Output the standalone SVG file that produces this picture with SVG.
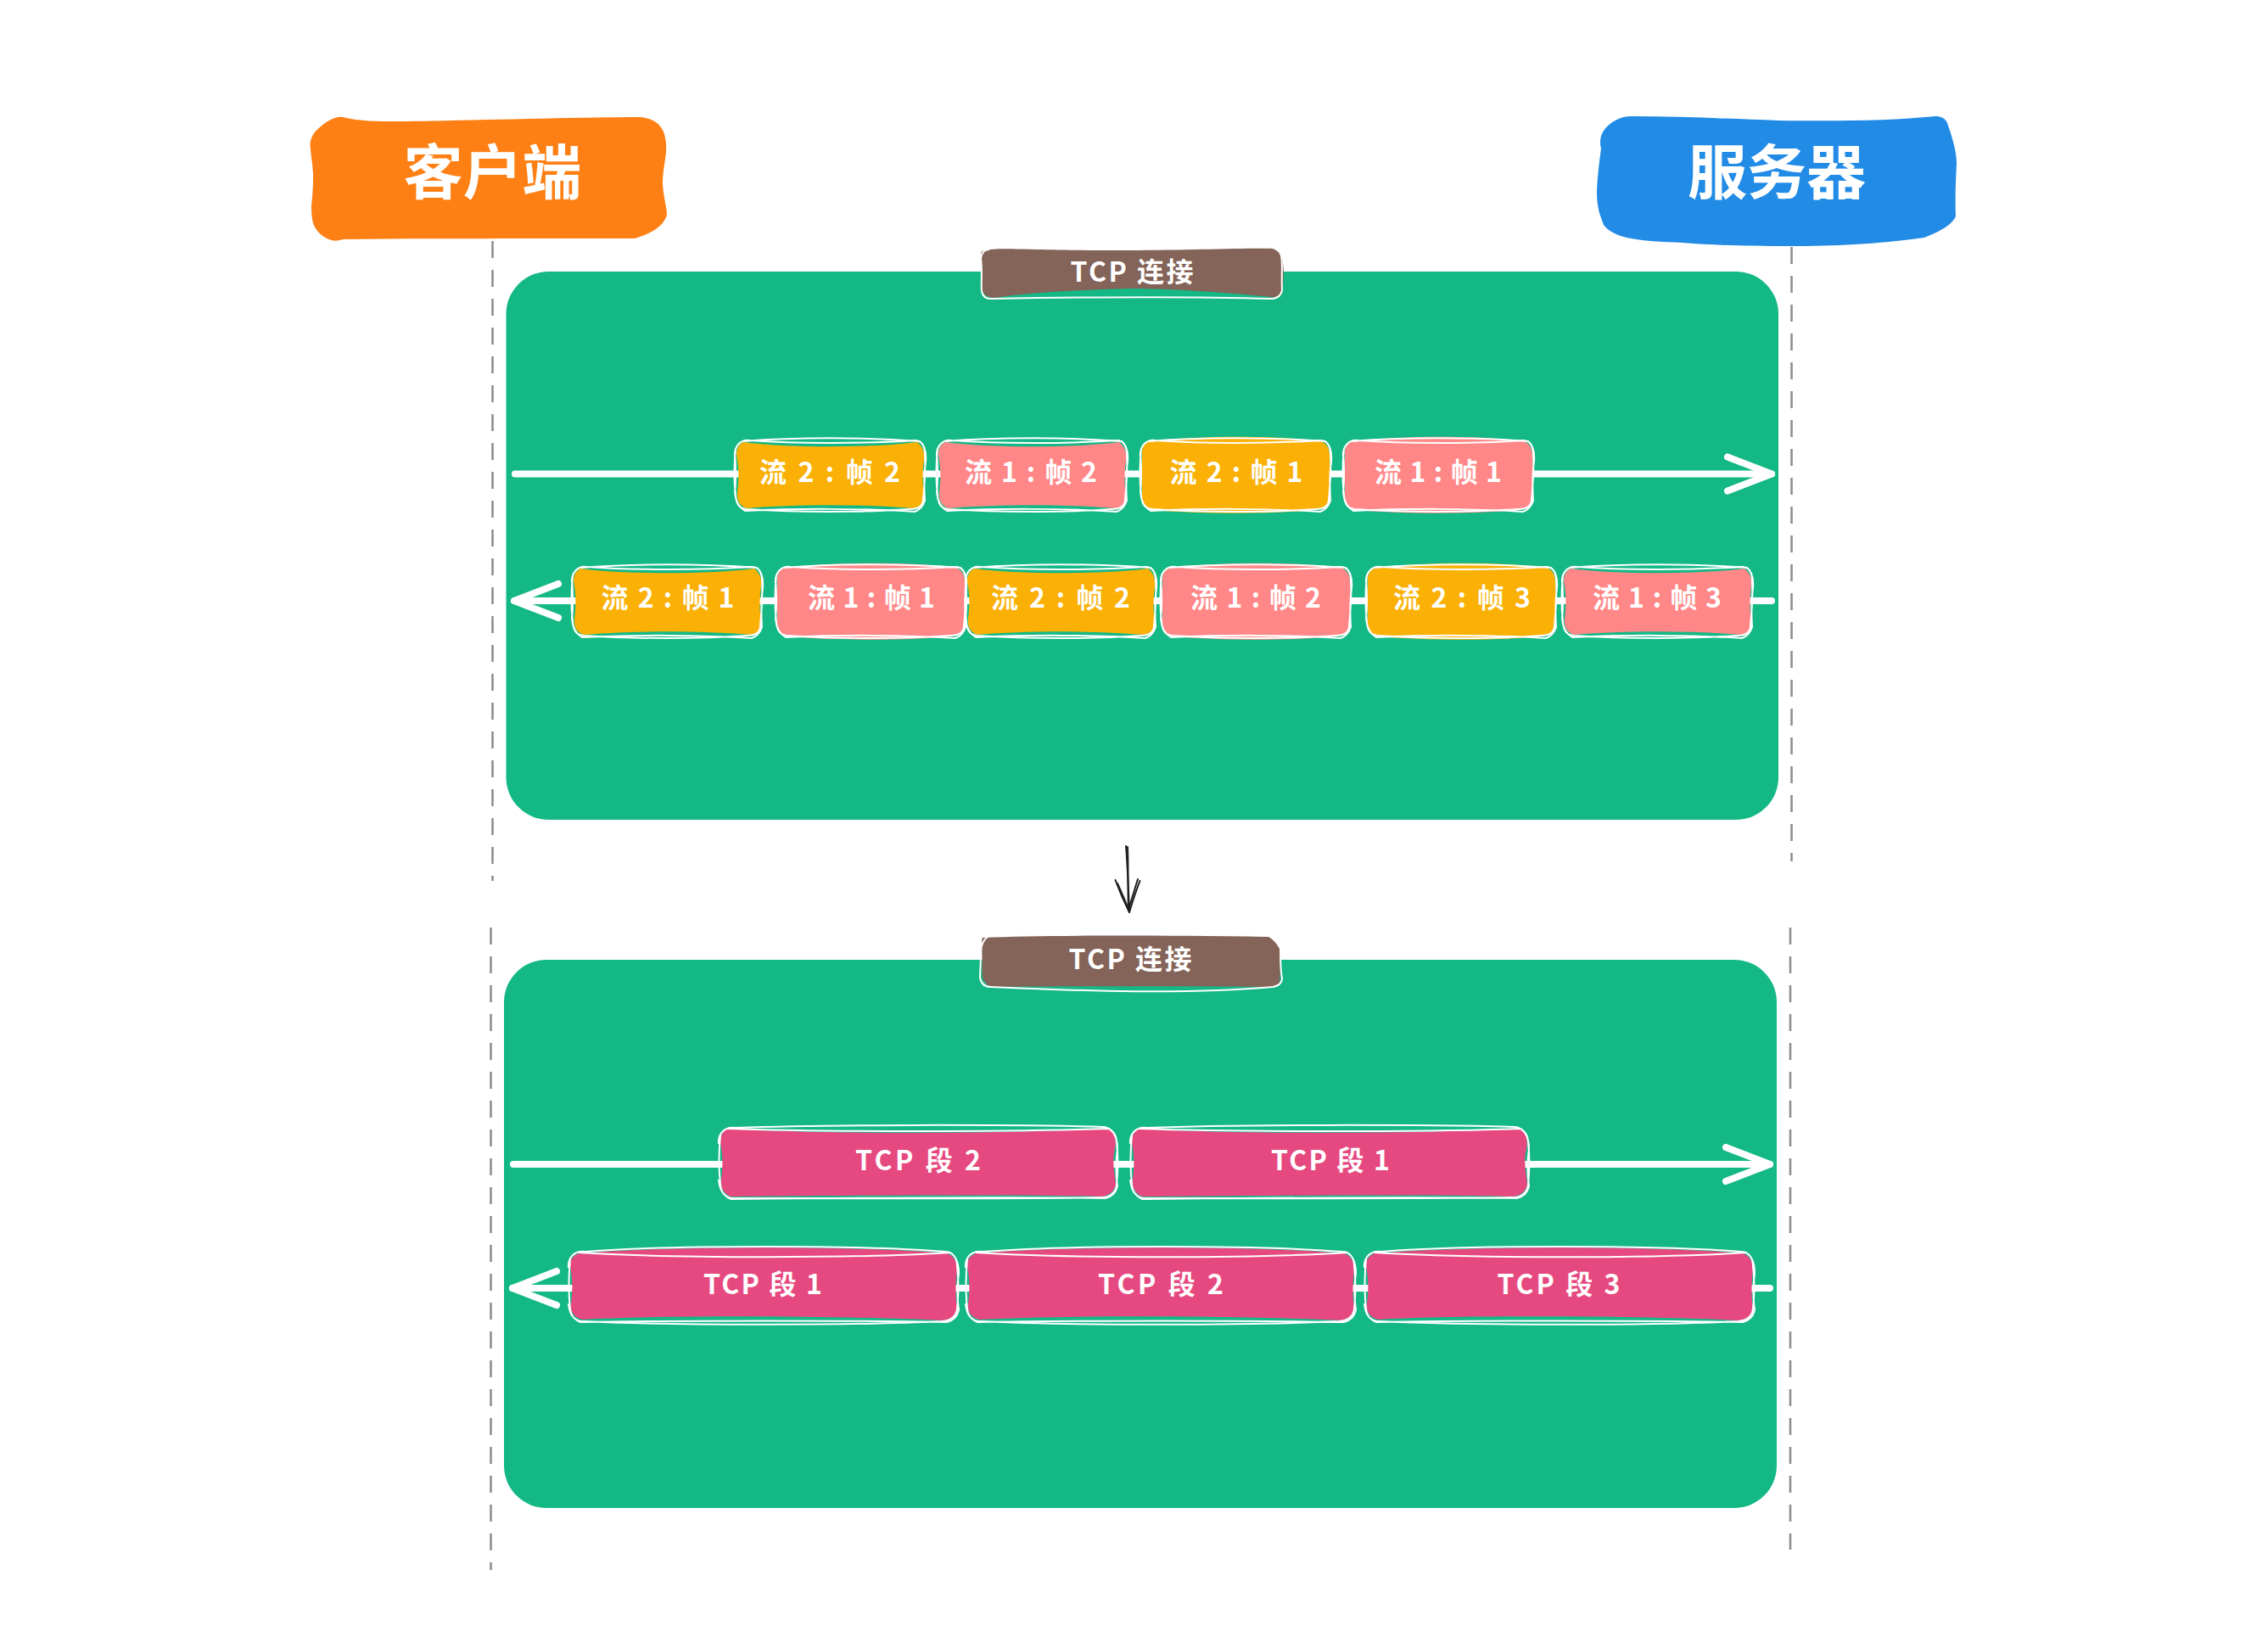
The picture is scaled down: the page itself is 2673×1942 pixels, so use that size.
<svg xmlns="http://www.w3.org/2000/svg" width="2673" height="1942" viewBox="0 0 2673 1942">
<style>
text{font-family:"Noto Sans CJK SC","Noto Sans",sans-serif;fill:#fff;text-anchor:middle;font-weight:700}
.big{font-size:70px}
.lab{font-size:32px}
.amber{fill:#fab005}
.salmon{fill:#ff8787}
.pink{fill:#e64980}
.brown{fill:#846358}
.o{fill:none;stroke:#fff;stroke-width:2}
.w{fill:none;stroke:#fff;stroke-width:8;stroke-linecap:round}
.d{fill:none;stroke:#8f8f8f;stroke-width:2.6;stroke-dasharray:20 14}
.k{fill:none;stroke:#1e1e1e;stroke-width:2;stroke-linecap:round}
</style>
<defs>
<marker id="wh" markerUnits="userSpaceOnUse" markerWidth="70" markerHeight="60" refX="60" refY="30" orient="auto-start-reverse">
<path d="M8 10L60 30L8 50" fill="none" stroke="#fff" stroke-width="8" stroke-linecap="round" stroke-linejoin="round"/>
</marker>
<path id="fa" d="M8 3C60 10 160 10 213 3C219 8 222 14 221 24C219 40 219 52 221 66C221 74 217 79 209 81C150 76 70 76 12 81C4 78 0 72 1 62C3 46 3 34 0 18C0 10 3 6 8 3Z"/>
<path id="fb" d="M10 2C70 -5 160 -5 211 2C218 5 221 10 221 20C222 40 222 55 221 68C220 77 215 81 205 83C150 88 70 88 14 83C4 81 0 76 0 66C0 46 0 30 0 14C1 7 4 4 10 2Z"/>
<path id="oa" class="o" d="M-2 20C-3 8 5 -1 16 1C70 5 150 5 210 1C219 1 222 8 222 18C223 35 222 50 220 70C220 78 214 82 204 82C150 86 70 86 12 82C4 81 0 78 -1 66C-3 50 -3 30 -1 10 M8 2C70 -3 150 -3 216 2C221 6 224 14 223 26C221 40 221 56 222 72C220 78 216 83 210 85C150 81 70 81 10 84C3 80 -1 74 -2 62C0 45 -1 28 -2 14"/>
<path id="sfa" d="M8 2C120 9 340 8 456 2C465 6 467 14 465 26C461 40 465 56 466 68C464 76 458 81 450 82C340 79 120 81 12 82C4 78 0 72 1 62C3 46 3 34 0 18C0 10 3 5 8 2Z"/>
<path id="soa" class="o" d="M-2 20C-3 8 5 -1 18 1C120 -3 340 -3 452 0C460 1 467 8 467 18C469 35 469 50 467 68C466 78 458 83 450 83C340 85 120 84 14 84C6 83 1 78 0 68C-2 50 -2 30 0 10 M8 2C120 6 340 6 458 2C464 6 468 14 468 26C466 40 466 56 468 70C466 78 462 82 454 84C340 82 120 84 12 85C3 80 -1 74 -2 62"/>
<path id="sfb" d="M10 3C120 -6 340 -6 444 3C452 6 456 12 456 22C454 40 454 56 456 66C455 76 450 80 440 82C340 77 120 75 14 81C4 78 0 72 1 62C3 46 3 34 0 18C0 10 3 6 10 3Z"/>
<path id="sob" class="o" d="M-2 20C-3 8 5 -1 18 1C120 -7 340 -7 442 1C451 1 456 8 456 18C458 35 458 50 456 68C455 78 448 82 438 83C340 88 120 88 16 83C6 83 1 78 0 68C-2 50 -2 30 0 10 M10 2C120 9 340 9 448 2C454 6 458 14 458 26C456 40 456 56 458 70C456 78 452 82 444 84C340 82 120 82 12 84C3 80 -1 74 -2 62"/>
</defs>

<g id="lifelines">
<path class="d" d="M580.5 284V1038"/>
<path class="d" d="M2111.5 291V1015"/>
<path class="d" d="M578.5 1093V1850"/>
<path class="d" d="M2110 1093V1826"/>
</g>

<g id="container-top"><rect x="596.5" y="320" width="1499.5" height="646" rx="50" ry="50" fill="#14b885"/></g>
<g id="container-bottom"><rect x="594" y="1131" width="1500" height="646" rx="50" ry="50" fill="#14b885"/></g>

<g id="connectors">
<path class="w" d="M607 558.5H2088" marker-end="url(#wh)"/>
<path class="w" d="M2088 708H606" marker-end="url(#wh)"/>
<path class="w" d="M605 1372H2086" marker-end="url(#wh)"/>
<path class="w" d="M2086 1518H604" marker-end="url(#wh)"/>
<g id="down-arrow">
<path class="k" d="M1327 997C1329 1020 1330 1050 1331 1075"/>
<path class="k" d="M1329 998C1330 1030 1329 1055 1330 1073"/>
<path class="k" d="M1314.5 1037C1320 1052 1326 1065 1331 1075"/>
<path class="k" d="M1317 1041C1322 1052 1327 1064 1330 1072"/>
<path class="k" d="M1343.5 1038C1338 1052 1334 1065 1331 1075"/>
<path class="k" d="M1341 1036C1336 1052 1333 1062 1330 1072"/>
</g>
</g>

<g id="client">
<path fill="#fe8015" d="M404 138C425 143 445 143 468 143C560 142 680 138 755 138C772 140 780 148 783 158C786 170 785 175 785 180C783 195 781 205 781 217C782 232 786 245 786 253C782 268 765 276 748 281C650 281 520 281 404 282C398 284 394 284 391 283C380 280 372 272 369 263C367 255 367 248 367 242C369 225 369 215 369 204C368 190 366 180 365.5 170.5C366 160 372 154 378 149C388 141 396 137 404 138Z"/>
<text class="big" x="580.5" y="229" textLength="210">客户端</text>
</g>
<g id="server">
<path fill="#228be6" d="M1923 137C1980 137 2040 140 2096 142C2170 143 2230 142 2281 137C2288 137 2293 140 2295 145C2302 165 2306 180 2306 192C2305 215 2304 235 2305 255C2300 266 2285 273 2268 280C2210 288 2160 290 2109 290C2060 290 2020 289 1983 286C1960 285 1935 284 1917 280C1905 277 1895 272 1890 265C1884 250 1882 240 1882 225C1883 205 1885 190 1887 175C1885 168 1886 160 1890 154C1898 143 1910 137 1923 137Z"/>
<text class="big" x="2094" y="229" textLength="210">服务器</text>
</g>

<g id="tcp-label-top">
<path class="brown" d="M1160 295C1180 291 1200 295 1330 295C1400 295 1470 292 1500 293C1508 296 1511 302 1512 310C1514 322 1512 335 1511 346C1508 350 1504 351 1498 350C1450 345 1380 340 1330 340C1270 342 1210 345 1172 351C1162 350 1158 346 1157 340C1157 325 1158 310 1156 298C1157 296 1158 295 1160 295Z"/>
<path class="o" d="M1166 294C1160 294 1157 298 1156 304C1158 320 1156 335 1157 343C1158 349 1162 352 1168 352C1280 350 1400 349 1500 352C1506 351 1510 348 1511 342C1510 325 1512 312 1510 302C1510 298 1507 294 1503 293"/>
<text class="lab" x="1334" y="332" textLength="145">TCP 连接</text>
</g>
<g id="tcp-label-bottom">
<path class="brown" d="M1158 1105C1230 1102 1350 1102 1495 1104C1502 1108 1506 1114 1508 1118C1509 1135 1509 1150 1508 1158C1505 1162 1500 1163 1495 1163C1400 1162 1260 1162 1170 1163C1164 1162 1160 1158 1158 1152C1157 1140 1158 1125 1157 1115C1157 1110 1157 1108 1158 1105Z"/>
<path class="o" d="M1165 1103C1158 1108 1156 1114 1156 1122C1156 1135 1155 1145 1155 1152C1156 1158 1160 1163 1168 1163C1280 1168 1400 1172 1500 1163C1506 1162 1510 1160 1511 1154C1509 1140 1509 1125 1510 1118"/>
<text class="lab" x="1332" y="1142" textLength="145">TCP 连接</text>
</g>

<g id="frame-up-s2f2"><use href="#fa" x="868" y="518" class="amber"/><use href="#oa" x="868" y="518"/><text class="lab" x="978" y="568" textLength="166">流 2 : 帧 2</text></g>
<g id="frame-up-s1f2"><use href="#fa" x="1106" y="518" class="salmon"/><use href="#oa" x="1106" y="518"/><text class="lab" x="1215" y="568" textLength="156">流 1 : 帧 2</text></g>
<g id="frame-up-s2f1"><use href="#fb" x="1346" y="518" class="amber"/><use href="#oa" x="1346" y="518"/><text class="lab" x="1457" y="568" textLength="157">流 2 : 帧 1</text></g>
<g id="frame-up-s1f1"><use href="#fb" x="1585" y="518" class="salmon"/><use href="#oa" x="1585" y="518"/><text class="lab" x="1695" y="568" textLength="150">流 1 : 帧 1</text></g>

<g id="frame-down-s2f1"><use href="#fa" x="676" y="667" class="amber"/><use href="#oa" x="676" y="667"/><text class="lab" x="787" y="716" textLength="157">流 2 : 帧 1</text></g>
<g id="frame-down-s1f1"><use href="#fb" x="916" y="667" class="salmon"/><use href="#oa" x="916" y="667"/><text class="lab" x="1027" y="716" textLength="150">流 1 : 帧 1</text></g>
<g id="frame-down-s2f2"><use href="#fa" x="1140" y="667" class="amber"/><use href="#oa" x="1140" y="667"/><text class="lab" x="1250" y="716" textLength="164">流 2 : 帧 2</text></g>
<g id="frame-down-s1f2"><use href="#fb" x="1370" y="667" class="salmon"/><use href="#oa" x="1370" y="667"/><text class="lab" x="1480" y="716" textLength="154">流 1 : 帧 2</text></g>
<g id="frame-down-s2f3"><use href="#fb" x="1612" y="667" class="amber"/><use href="#oa" x="1612" y="667"/><text class="lab" x="1723" y="716" textLength="162">流 2 : 帧 3</text></g>
<g id="frame-down-s1f3"><use href="#fa" x="1843" y="667" class="salmon"/><use href="#oa" x="1843" y="667"/><text class="lab" x="1953" y="716" textLength="152">流 1 : 帧 3</text></g>

<g id="seg-up-2"><use href="#sfa" x="849" y="1328" class="pink"/><use href="#soa" x="849" y="1328"/><text class="lab" x="1082" y="1379" textLength="148">TCP 段 2</text></g>
<g id="seg-up-1"><use href="#sfa" x="1334" y="1328" class="pink"/><use href="#soa" x="1334" y="1328"/><text class="lab" x="1568" y="1379" textLength="140">TCP 段 1</text></g>
<g id="seg-down-1"><use href="#sfb" x="672" y="1474" class="pink"/><use href="#sob" x="672" y="1474"/><text class="lab" x="899" y="1525" textLength="140">TCP 段 1</text></g>
<g id="seg-down-2"><use href="#sfb" x="1140" y="1474" class="pink"/><use href="#sob" x="1140" y="1474"/><text class="lab" x="1368" y="1525" textLength="148">TCP 段 2</text></g>
<g id="seg-down-3"><use href="#sfb" x="1610" y="1474" class="pink"/><use href="#sob" x="1610" y="1474"/><text class="lab" x="1837" y="1525" textLength="145">TCP 段 3</text></g>
</svg>
